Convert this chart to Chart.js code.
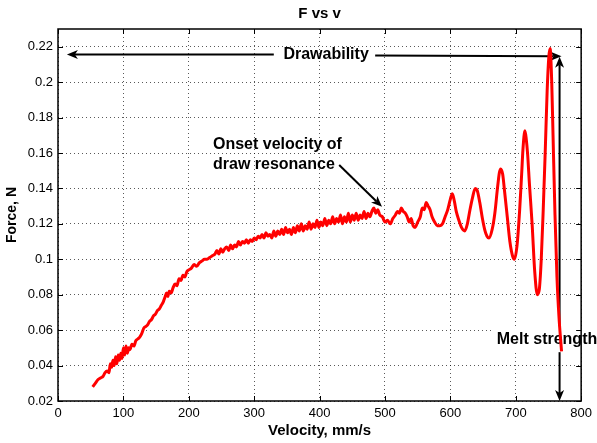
<!DOCTYPE html>
<html>
<head>
<meta charset="utf-8">
<title>F vs v</title>
<script src="https://cdn.jsdelivr.net/npm/chart.js@4.4.0/dist/chart.umd.min.js"></script>
<style>
    body { margin: 0; background: #fff; }
    canvas { display: block; }
</style>
</head>
<body>
<canvas id="chart-f-vs-v" width="597" height="443"></canvas>
<script>
/***** Data *****/
const VELOCITY = [
    53, 57, 61, 65, 69, 72, 75, 78, 80, 82, 84, 86, 88, 90, 92, 94, 96, 98, 100, 102,
    104, 106, 108, 110, 113, 116, 119, 122, 125, 128, 131, 134, 137, 140, 143, 146, 149, 152, 155, 158,
    161, 164, 166, 168, 170, 173, 176, 179, 182, 185, 188, 191, 194, 197, 200, 204, 208, 212, 216, 220,
    224, 228, 232, 236, 240, 243, 246, 249, 252, 255, 258, 261, 264, 267, 270, 273, 276, 279, 282, 285,
    288, 291, 294, 297, 300, 303, 306, 309, 312, 315, 318, 321, 324, 327, 330, 333, 336, 339, 342, 345,
    348, 351, 354, 357, 360, 363, 366, 369, 372, 375, 378, 381, 384, 387, 390, 393, 396, 399, 402, 405,
    408, 411, 414, 417, 420, 423, 426, 429, 432, 435, 438, 441, 444, 447, 450, 453, 456, 459, 462, 465,
    468, 471, 474, 477, 480, 483, 486, 489, 492, 496, 500, 504, 508, 512, 516, 519, 522, 525, 528, 531,
    534, 537, 540, 543, 546, 550, 554, 557, 560, 563, 566, 569, 572, 576, 580, 584, 588, 592, 596, 600,
    603, 606, 609, 613, 617, 622, 626, 630, 634, 638, 641, 645, 649, 653, 656, 659, 664, 668, 672, 675,
    677, 680, 683, 687, 691, 695, 698, 702, 706, 709, 711, 714, 716, 718, 721, 725, 729, 733, 736, 739,
    742, 745, 748, 750.5, 752.5, 755, 757, 760, 763, 766, 770
];
const FORCE = [
    0.028, 0.030, 0.032, 0.033, 0.034, 0.036, 0.037, 0.036, 0.041, 0.039, 0.043, 0.040, 0.045, 0.041, 0.046, 0.043, 0.047, 0.044, 0.050, 0.046,
    0.051, 0.047, 0.050, 0.049, 0.052, 0.051, 0.054, 0.055, 0.056, 0.058, 0.061, 0.062, 0.063, 0.065, 0.066, 0.068, 0.069, 0.071, 0.072, 0.074,
    0.076, 0.079, 0.081, 0.079, 0.082, 0.081, 0.084, 0.086, 0.085, 0.089, 0.088, 0.091, 0.090, 0.093, 0.094, 0.095, 0.097, 0.096, 0.098, 0.099,
    0.100, 0.100, 0.101, 0.102, 0.103, 0.105, 0.103, 0.106, 0.104, 0.106, 0.107, 0.105, 0.108, 0.106, 0.108, 0.107, 0.110, 0.108, 0.110, 0.109,
    0.111, 0.109, 0.111, 0.110, 0.112, 0.111, 0.113, 0.112, 0.114, 0.112, 0.115, 0.113, 0.114, 0.112, 0.116, 0.113, 0.116, 0.114, 0.117, 0.114,
    0.118, 0.115, 0.117, 0.114, 0.118, 0.115, 0.119, 0.116, 0.120, 0.116, 0.119, 0.117, 0.121, 0.117, 0.120, 0.118, 0.122, 0.118, 0.121, 0.119,
    0.123, 0.119, 0.122, 0.120, 0.124, 0.120, 0.123, 0.121, 0.125, 0.120, 0.124, 0.121, 0.126, 0.121, 0.125, 0.122, 0.126, 0.122, 0.125, 0.123,
    0.127, 0.123, 0.126, 0.124, 0.127, 0.129, 0.126, 0.128, 0.125, 0.124, 0.121, 0.122, 0.120, 0.123, 0.125, 0.127, 0.126, 0.129, 0.127, 0.126,
    0.124, 0.121, 0.123, 0.119, 0.118, 0.121, 0.124, 0.129, 0.128, 0.132, 0.130, 0.128, 0.124, 0.121, 0.119, 0.119, 0.120, 0.124, 0.128, 0.134,
    0.137, 0.133, 0.127, 0.122, 0.118, 0.116, 0.120, 0.128, 0.135, 0.140, 0.139, 0.132, 0.123, 0.116, 0.113, 0.112, 0.117, 0.126, 0.140, 0.149,
    0.151, 0.148, 0.138, 0.124, 0.110, 0.102, 0.100, 0.108, 0.128, 0.148, 0.162, 0.1725, 0.168, 0.160, 0.142, 0.120, 0.093, 0.080, 0.083, 0.100,
    0.128, 0.160, 0.195, 0.214, 0.219, 0.200, 0.170, 0.125, 0.090, 0.068, 0.048
];
const X_TICKS = [0, 100, 200, 300, 400, 500, 600, 700, 800];
const Y_TICKS = [0.02, 0.04, 0.06, 0.08, 0.1, 0.12, 0.14, 0.16, 0.18, 0.2, 0.22];

const TITLE = "F vs v";
const X_LABEL = "Velocity, mm/s";
const Y_LABEL = "Force, N";

/***** Annotations, in data units *****/
const ARROWS = [
    {from: [330, 0.2156], to: [13.6, 0.2156]},   //Drawability, left
    {from: [485, 0.2150], to: [770, 0.2146]},    //Drawability, right
    {from: [767, 0.06], to: [767, 0.2144]},      //Melt strength, up
    {from: [767, 0.06], to: [767, 0.02]},        //Melt strength, down
    {from: [430, 0.1532], to: [495.5, 0.1296]}   //Onset
];
const LABELS = [
    {text: "Drawability", x: 410, y: 0.2158, align: "center", bg: false},
    {text: "Onset velocity of", x: 237, y: 0.1645, align: "left", bg: false},
    {text: "draw resonance", x: 237, y: 0.1537, align: "left", bg: false},
    {text: "Melt strength", x: 671, y: 0.0549, align: "left", bg: true}
];

const FONT = "'Liberation Sans', Arial, Helvetica, sans-serif";

function drawArrow(ctx, x1, y1, x2, y2) { //head at (x2, y2)
    let ang = Math.atan2(y2 - y1, x2 - x1);
    let c = Math.cos(ang), s = Math.sin(ang);
    let len = 11, half = 4.5, back = 8;
    ctx.beginPath();
    ctx.moveTo(x1, y1);
    ctx.lineTo(x2 - c * back, y2 - s * back);
    ctx.stroke();
    ctx.beginPath();
    ctx.moveTo(x2, y2);
    ctx.lineTo(x2 - len * c + half * s, y2 - len * s - half * c);
    ctx.lineTo(x2 - back * c, y2 - back * s);
    ctx.lineTo(x2 - len * c - half * s, y2 - len * s + half * c);
    ctx.closePath();
    ctx.fill();
}

const matlabLook = {
    id: 'matlabLook',
    beforeDatasetsDraw(chart) {
        const ctx = chart.ctx;
        const xs = chart.scales.x, ys = chart.scales.y;
        ctx.save();
        ctx.strokeStyle = "#000";
        ctx.fillStyle = "#000";
        ctx.lineWidth = 2;
        ARROWS.forEach(a => {
            drawArrow(ctx, xs.getPixelForValue(a.from[0]), ys.getPixelForValue(a.from[1]),
                xs.getPixelForValue(a.to[0]), ys.getPixelForValue(a.to[1]));
        });
        ctx.font = "bold 16px " + FONT;
        ctx.textBaseline = "middle";
        LABELS.forEach(l => {
            let px = xs.getPixelForValue(l.x), py = ys.getPixelForValue(l.y);
            ctx.textAlign = l.align;
            if (l.bg) {
                let w = ctx.measureText(l.text).width;
                ctx.fillStyle = "#fff";
                ctx.fillRect(px - 4, py - 13, w + 8, 26);
            }
            ctx.fillStyle = "#000";
            ctx.fillText(l.text, px, py);
        });
        ctx.restore();
    },
    afterDatasetsDraw(chart) {
        const ctx = chart.ctx;
        const area = chart.chartArea;
        const xs = chart.scales.x, ys = chart.scales.y;
        ctx.save();
        ctx.strokeStyle = "#000";
        ctx.lineWidth = 1;
        X_TICKS.forEach(v => { //inward ticks, bottom and top
            let px = Math.round(xs.getPixelForValue(v)) + 0.5;
            ctx.beginPath();
            ctx.moveTo(px, area.bottom); ctx.lineTo(px, area.bottom - 5);
            ctx.moveTo(px, area.top); ctx.lineTo(px, area.top + 5);
            ctx.stroke();
        });
        Y_TICKS.forEach(v => { //inward ticks, left and right
            let py = Math.round(ys.getPixelForValue(v)) + 0.5;
            ctx.beginPath();
            ctx.moveTo(area.left, py); ctx.lineTo(area.left + 5, py);
            ctx.moveTo(area.right, py); ctx.lineTo(area.right - 5, py);
            ctx.stroke();
        });
        ctx.lineWidth = 1.5;
        ctx.strokeRect(area.left, area.top, area.right - area.left, area.bottom - area.top);
        ctx.fillStyle = "#000";
        ctx.font = "bold 15px " + FONT;
        ctx.textAlign = "center";
        ctx.textBaseline = "middle";
        ctx.fillText(TITLE, (area.left + area.right) / 2, 14);
        ctx.restore();
    }
};

let points = VELOCITY.map((v, i) => ({x: v, y: FORCE[i]}));

new Chart("chart-f-vs-v", {
    type: 'line',
    data: {
        datasets: [{
            data: points,
            borderColor: "#ff0000",
            borderWidth: 3,
            pointRadius: 0,
            cubicInterpolationMode: 'monotone',
            fill: false
        }]
    },
    options: {
        responsive: false,
        animation: false,
        layout: {padding: {top: 29, right: 11, left: 0, bottom: 0}},
        plugins: {legend: {display: false}, tooltip: {enabled: false}, title: {display: false}},
        scales: {
            x: {
                type: 'linear',
                min: 0,
                max: 800,
                afterBuildTicks: function (scale) { scale.ticks = X_TICKS.map(v => ({value: v})); },
                afterFit: function (scale) { scale.height = 42; },
                ticks: {color: "#000", padding: 5, maxRotation: 0, font: {family: FONT, size: 13}},
                grid: {color: "rgba(0,0,0,0.65)", lineWidth: 1, drawTicks: false},
                border: {display: false, dash: [1, 3]},
                title: {display: true, text: X_LABEL, color: "#000", padding: {top: 0, bottom: 3},
                    font: {family: FONT, size: 15, weight: 'bold'}}
            },
            y: {
                type: 'linear',
                min: 0.02,
                max: 0.23,
                afterBuildTicks: function (scale) { scale.ticks = Y_TICKS.map(v => ({value: v})); },
                afterFit: function (scale) { scale.width = 58; },
                ticks: {color: "#000", padding: 5, font: {family: FONT, size: 13},
                    callback: v => String(+v.toFixed(2))},
                grid: {color: "rgba(0,0,0,0.65)", lineWidth: 1, drawTicks: false},
                border: {display: false, dash: [1, 3]},
                title: {display: true, text: Y_LABEL, color: "#000", padding: {top: 4, bottom: 0},
                    font: {family: FONT, size: 14, weight: 'bold'}}
            }
        }
    },
    plugins: [matlabLook]
});
</script>
</body>
</html>
